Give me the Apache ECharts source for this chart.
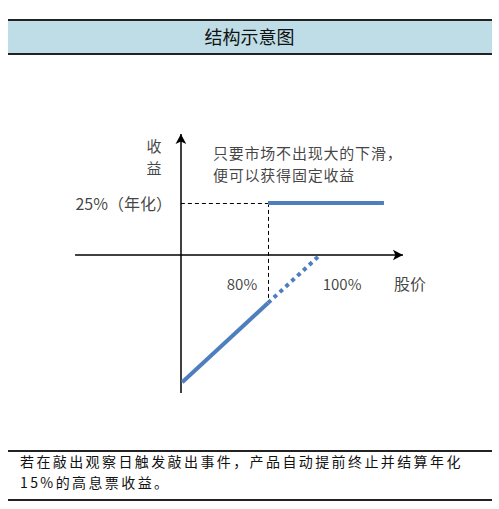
<!DOCTYPE html>
<html><head><meta charset="utf-8">
<script src="https://cdn.jsdelivr.net/npm/echarts@6/dist/echarts.min.js"></script>
<style>html,body{margin:0;padding:0;background:#fff}#c{width:499px;height:509px}</style>
</head><body><div id="c"></div>
<script>
// ---- data (schematic: x = stock price %, y = payoff %) ----
const titleText = '结构示意图';
const footerLines = ['若在敲出观察日触发敲出事件，产品自动提前终止并结算年化', '15%的高息票收益。'];
const noteLines = ['只要市场不出现大的下滑，', '便可以获得固定收益'];
const yAxisName = '收益';
const xAxisName = '股价';
const couponLabel = '25%（年化）';
const priceTickLabels = ['80%', '100%'];
const couponLine = [[80, 21.7], [124.6, 21.7]];
const lossSolid = [[47, -53], [80, -20]];
const lossDotted = [[80, -20], [100, 0]];
const xAxisExtent = [5.8, 131.9];
const yAxisExtent = [-57.5, 50.4];
const yAxisAt = 46.5;
const knockPrice = 80;
const couponLevel = 21.7;
const kneeLevel = -20;

const CJK = '"Noto Sans CJK SC","Noto Sans",sans-serif';
const blue = '#4F7EBE';
const chart = echarts.init(document.getElementById('c'), null, {renderer: 'svg'});

function txt(name, pos, label) {
  return {name: name, value: pos, label: Object.assign({show: true, formatter: '{b}'}, label)};
}

const textData = [
  txt(couponLabel, [yAxisAt, couponLevel], {position: 'left', distance: 9, fontSize: 16}),
  txt(priceTickLabels[0], [70, -11.7], {position: 'inside'}),
  txt(priceTickLabels[1], [108.5, -11.7], {position: 'inside'}),
  txt(xAxisName, [134.6, -11.7], {position: 'inside', fontSize: 16}),
  txt(yAxisName.split('').join('\n'), [36.2, 41.2], {position: 'inside', fontSize: 15, lineHeight: 22}),
  txt(noteLines.join('\n'), [58.8, 38.3], {position: 'right', distance: 0, fontSize: 15, lineHeight: 22, align: 'left'})
];

const blueStyle = {color: blue, width: 4, cap: 'butt'};

const option = {
  animation: false,
  backgroundColor: '#fff',
  title: {text: titleText, left: 'center', top: 27, padding: 0,
    textStyle: {fontSize: 18, fontWeight: 'normal', color: '#111', fontFamily: CJK}},
  grid: {left: 60, right: 75, top: 111, bottom: 86},
  xAxis: {type: 'value', min: 0, max: 140, show: false},
  yAxis: {type: 'value', min: -70, max: 60, show: false},
  graphic: [
    {type: 'rect', z: -10, shape: {x: 8, y: 20, width: 484, height: 34}, style: {fill: '#BEDDE6'}},
    {type: 'line', shape: {x1: 8, y1: 20, x2: 492, y2: 20}, style: {stroke: '#222', lineWidth: 2}},
    {type: 'line', shape: {x1: 8, y1: 54, x2: 492, y2: 54}, style: {stroke: '#222', lineWidth: 2}},
    {type: 'line', shape: {x1: 8, y1: 451, x2: 492, y2: 451}, style: {stroke: '#222', lineWidth: 2}},
    {type: 'line', shape: {x1: 8, y1: 500, x2: 492, y2: 500}, style: {stroke: '#222', lineWidth: 2}},
    {type: 'text', left: 20, top: 454, style: {text: footerLines[0], fontSize: 14, fill: '#111', fontFamily: CJK}},
    {type: 'text', left: 20, top: 475, style: {text: footerLines[1], fontSize: 14, fill: '#111', fontFamily: CJK}}
  ],
  series: [
    {type: 'line', data: couponLine, symbol: 'none', lineStyle: blueStyle, z: 5,
      markLine: {silent: true, symbol: ['none', 'arrow'], symbolSize: [8, 10], label: {show: false},
        lineStyle: {color: '#000', width: 1.5, type: 'solid'},
        data: [
          [{coord: [xAxisExtent[0], 0]}, {coord: [xAxisExtent[1], 0]}],
          [{coord: [yAxisAt, yAxisExtent[0]]}, {coord: [yAxisAt, yAxisExtent[1]]}]
        ]}},
    {type: 'line', data: lossSolid, symbol: 'none', lineStyle: blueStyle, z: 5},
    {type: 'line', data: lossDotted, symbol: 'none', z: 5,
      lineStyle: Object.assign({}, blueStyle, {type: [4, 4]}),
      markLine: {silent: true, symbol: ['none', 'none'], label: {show: false},
        lineStyle: {color: '#000', width: 1, type: [4, 3]},
        data: [
          [{coord: [yAxisAt, couponLevel]}, {coord: [knockPrice, couponLevel]}],
          [{coord: [knockPrice, couponLevel]}, {coord: [knockPrice, kneeLevel]}]
        ]}},
    {type: 'scatter', data: textData, symbolSize: 0, silent: true, z: 10,
      label: {color: '#111', fontSize: 15, fontFamily: CJK}}
  ]
};
chart.setOption(option);

// widen character pitch of the long texts to match the reference typeface
function applySpacing() {
  document.querySelectorAll('#c text').forEach(function (t) {
    const s = t.textContent;
    if (footerLines.indexOf(s) >= 0) t.style.letterSpacing = '2.4px';
    else if (noteLines.indexOf(s) >= 0) t.style.letterSpacing = '0.8px';
  });
}
applySpacing();
chart.on('finished', applySpacing);
setTimeout(applySpacing, 0);
</script></body></html>
